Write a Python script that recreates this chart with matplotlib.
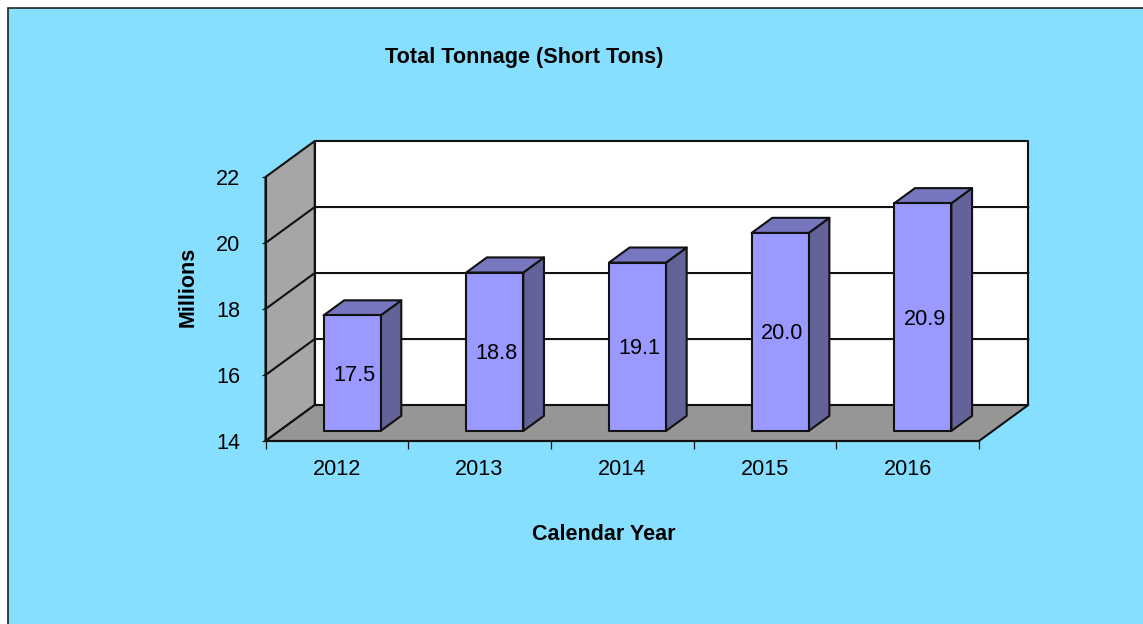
import matplotlib
matplotlib.use("Agg")
import matplotlib.pyplot as plt
from matplotlib.patches import Polygon, Rectangle

plt.rcParams['font.family'] = ['Liberation Sans', 'DejaVu Sans']

#chart data
years = ['2012', '2013', '2014', '2015', '2016']
tonnage = [17.5, 18.8, 19.1, 20.0, 20.9]
value_ticks = [14, 16, 18, 20, 22]

#colours
bg_blue = '#86DFFF'
wall_grey = '#A6A6A6'
floor_grey = '#969696'
bar_front = '#9999FF'
bar_side = '#636399'
bar_top = '#7777C0'
ink = '#111111'

#how far the back wall sits from the front, in data units
depth_x = 0.345
depth_y = 1.09
lw = 1.5

W, H = 1143, 624
fig = plt.figure(figsize=(W / 100, H / 100), dpi=100, facecolor='white')

#blue panel, runs off the right and bottom edges
fig.patches.append(Rectangle((7.5 / W, -0.01), 1.02, 1.01 - 7.5 / H, transform=fig.transFigure,
                             facecolor=bg_blue, edgecolor='#222222', linewidth=1.2, zorder=-1))

ax = fig.add_axes([265.5 / W, (H - 441) / H, 713.5 / W, 264 / H])
ax.set_facecolor('none')
ax.set_xlim(0, len(years))
ax.set_ylim(value_ticks[0], value_ticks[-1])


#category x, value y, depth d (0 front, 1 back wall)
def pt(x, y, d):
    return (x + d * depth_x, y + d * depth_y)


def face(points, color, z, edge=ink, width=lw):
    ax.add_patch(Polygon(points, closed=True, facecolor=color, edgecolor=edge, linewidth=width,
                         joinstyle='round', zorder=z, clip_on=False))


low, high = value_ticks[0], value_ticks[-1]
n = len(years)

#back wall, side wall, floor
face([pt(0, low, 1), pt(n, low, 1), pt(n, high, 1), pt(0, high, 1)], 'white', 1)
face([pt(0, low, 0), pt(0, low, 1), pt(0, high, 1), pt(0, high, 0)], wall_grey, 1)

#grid lines go along the side wall then the back wall
for v in value_ticks[1:-1]:
    xs, ys = zip(pt(0, v, 0), pt(0, v, 1), pt(n, v, 1))
    ax.plot(xs, ys, color=ink, linewidth=lw, zorder=2, clip_on=False)

face([pt(0, low, 0), pt(n, low, 0), pt(n, low, 1), pt(0, low, 1)], floor_grey, 3)

#bars
d0, d1 = 0.28, 0.70
bar_w = 0.4
for i in range(n):
    left = i + (1 - bar_w) / 2 + 0.01
    right = left + bar_w
    top = tonnage[i]
    base = low
    face([pt(right, base, d0), pt(right, base, d1), pt(right, top, d1), pt(right, top, d0)], bar_side, 4)
    face([pt(left, top, d0), pt(right, top, d0), pt(right, top, d1), pt(left, top, d1)], bar_top, 4)
    face([pt(left, base, d0), pt(right, base, d0), pt(right, top, d0), pt(left, top, d0)], bar_front, 5)
    cx, cy = pt(left + bar_w / 2 + 0.015, (base + top) / 2 - 0.06, d0)
    ax.text(cx, cy, '%.1f' % top, ha='center', va='center', fontsize=15.6, color='black', zorder=6)

#axes lines and ticks
for s in ['top', 'right']:
    ax.spines[s].set_visible(False)
for s in ['left', 'bottom']:
    ax.spines[s].set_linewidth(lw)
    ax.spines[s].set_color(ink)
    ax.spines[s].set_zorder(7)

ax.set_yticks(value_ticks)
ax.set_yticklabels([str(v) for v in value_ticks])
ax.set_xticks(range(n + 1))
ax.set_xticklabels([])
ax.set_xticks([i + 0.5 for i in range(n)], labels=years, minor=True)
ax.tick_params(axis='x', which='major', length=5.5, width=0.9, color=ink)
ax.tick_params(axis='x', which='minor', length=0, labelsize=15.6, pad=13)
ax.tick_params(axis='y', length=3, width=0.9, color=ink, labelsize=15.6, pad=15)

#titles
fig.text(524.5 / W, 1 - 57.5 / H, 'Total Tonnage (Short Tons)', ha='center', va='center',
         fontsize=15.6, fontweight='bold')
fig.text(603.5 / W, 1 - 535 / H, 'Calendar Year', ha='center', va='center',
         fontsize=15.5, fontweight='bold')
fig.text(188.5 / W, 1 - 287 / H, 'Millions', ha='center', va='center', rotation=90,
         fontsize=15.5, fontweight='bold')

fig.savefig('out.png', dpi=100, facecolor='white')
